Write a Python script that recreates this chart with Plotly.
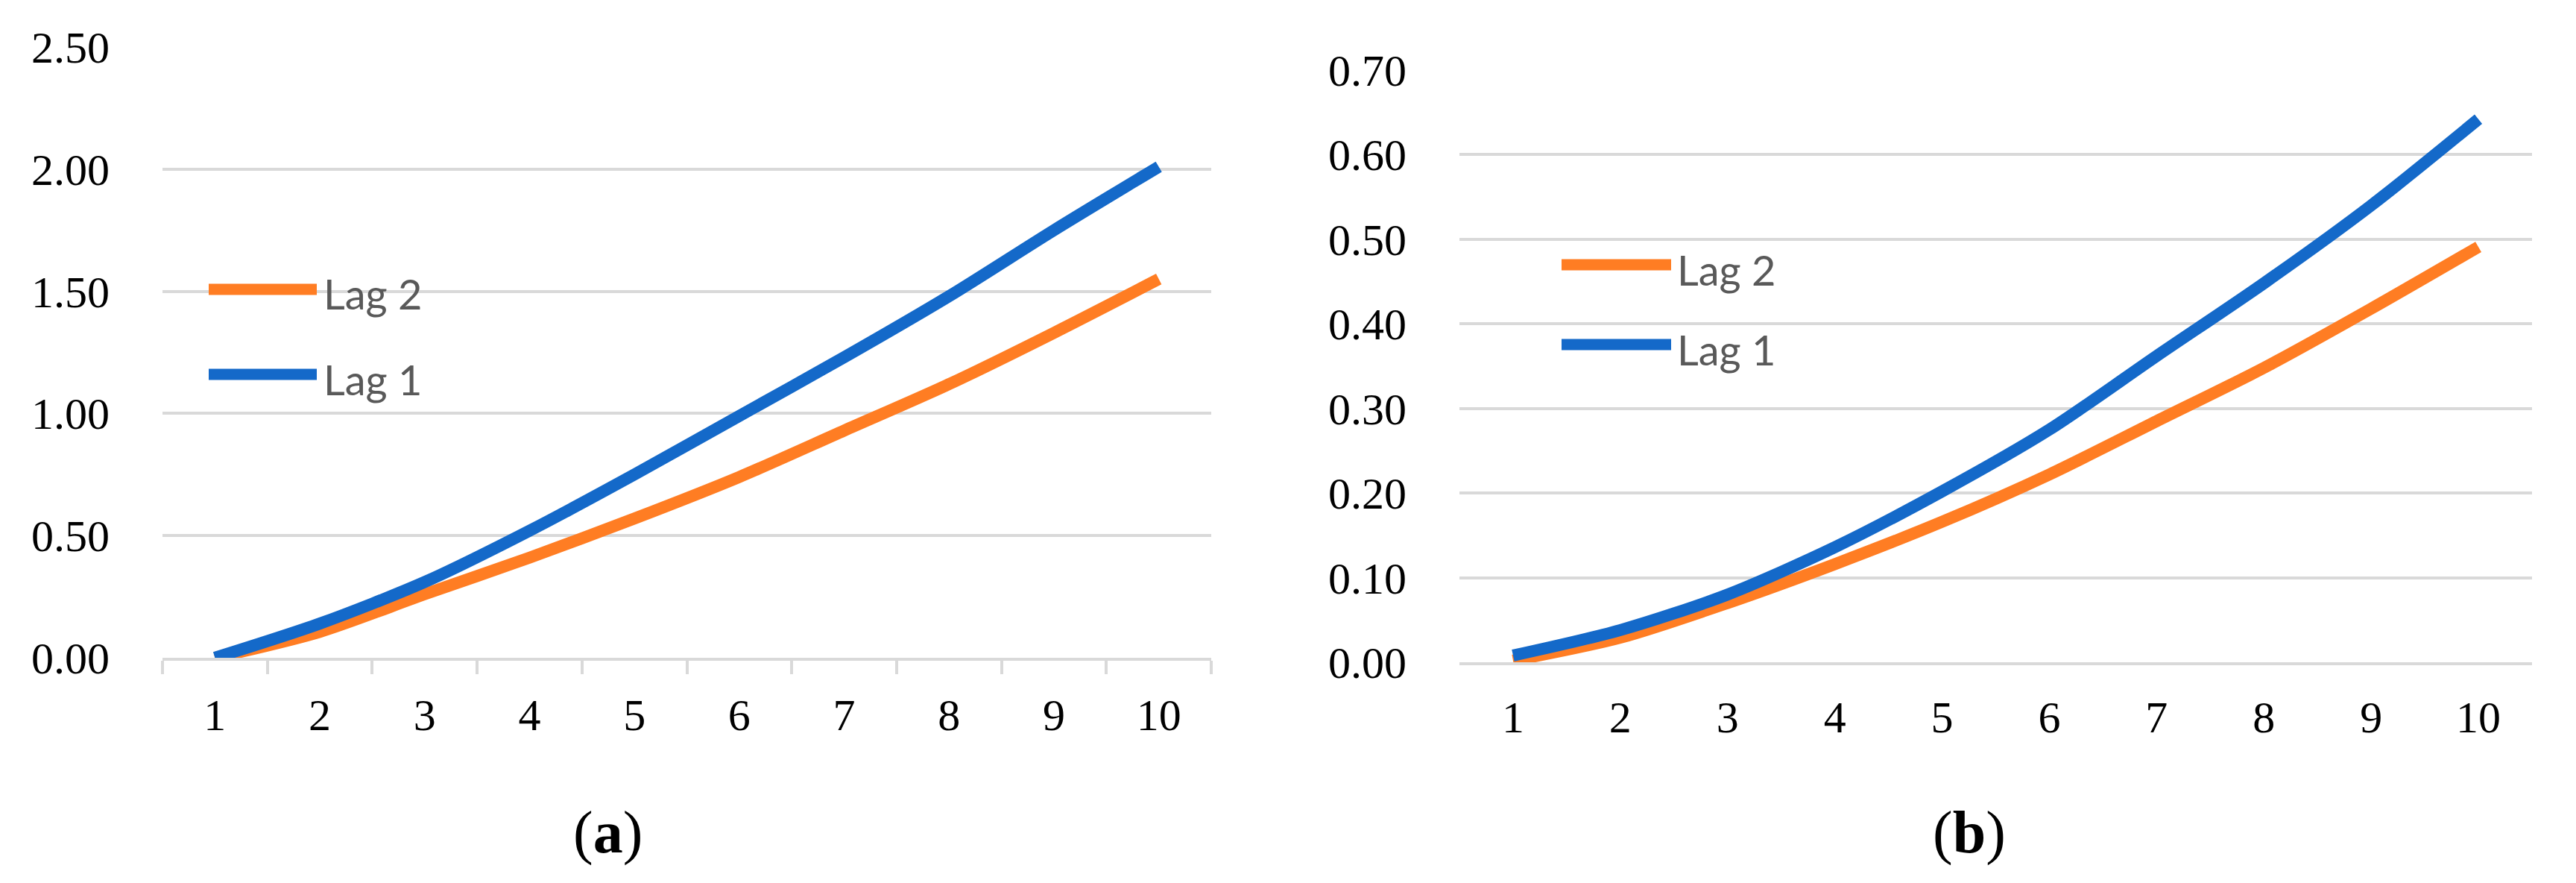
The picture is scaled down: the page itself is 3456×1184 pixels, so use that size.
import plotly.graph_objects as go

# The page body has an 8px margin; lay the figure out in page pixels.
PAGE_W, PAGE_H, OFF = 3456, 1184, 8
W, H = PAGE_W - 2 * OFF, PAGE_H - 2 * OFF

categories = ["1", "2", "3", "4", "5", "6", "7", "8", "9", "10"]

# Panel (a)
a_lag1 = [0.00, 0.14, 0.31, 0.52, 0.75, 0.99, 1.23, 1.48, 1.75, 2.01]
a_lag2 = [0.00, 0.106, 0.26, 0.41, 0.57, 0.74, 0.93, 1.12, 1.33, 1.55]
# Panel (b)
b_lag1 = [0.008, 0.038, 0.080, 0.136, 0.202, 0.275, 0.362, 0.448, 0.540, 0.642]
b_lag2 = [0.002, 0.029, 0.070, 0.116, 0.166, 0.222, 0.285, 0.348, 0.418, 0.491]

a_yticks = [0.0, 0.5, 1.0, 1.5, 2.0, 2.5]
b_yticks = [0.0, 0.1, 0.2, 0.3, 0.4, 0.5, 0.6, 0.7]

series_names = ["Lag 2", "Lag 1"]
ORANGE = "#ff7d23"
BLUE = "#1469c9"
GRID = "#d9d9d9"
SERIF = "Liberation Serif"
SANS = "Lato"


def px(x):
    return (x - OFF) / W


def py(y):
    return 1 - (y - OFF) / H


fig = go.Figure()

for name, ys, col in [(series_names[0], a_lag2, ORANGE), (series_names[1], a_lag1, BLUE)]:
    fig.add_trace(go.Scatter(x=categories, y=ys, mode="lines", name=name,
                             line=dict(color=col, width=16, shape="spline", smoothing=0.8),
                             xaxis="x", yaxis="y", showlegend=False))
for name, ys, col in [(series_names[0], b_lag2, ORANGE), (series_names[1], b_lag1, BLUE)]:
    fig.add_trace(go.Scatter(x=categories, y=ys, mode="lines", name=name,
                             line=dict(color=col, width=16, shape="spline", smoothing=0.8),
                             xaxis="x2", yaxis="y2", showlegend=False))

tickfont = dict(family=SERIF, size=60, color="#000000")

xcommon = dict(type="category", categoryorder="array", categoryarray=categories,
               showgrid=False, zeroline=False, showline=True, linecolor=GRID, linewidth=4,
               tickfont=tickfont, range=[-0.5, 9.5], automargin=False)
ycommon = dict(showgrid=True, gridcolor=GRID, gridwidth=4, zeroline=False, showline=False,
               tickfont=tickfont, tickformat=".2f", ticks="", automargin=False)

fig.update_layout(
    width=W, height=H, autosize=False,
    margin=dict(l=0, r=0, t=0, b=0),
    paper_bgcolor="white", plot_bgcolor="white",
    showlegend=False,
    xaxis=dict(domain=[px(218), px(1625)], anchor="y",
               ticks="outside", tickson="boundaries", ticklen=18, tickwidth=4, tickcolor=GRID,
               ticklabelstandoff=21, **xcommon),
    yaxis=dict(domain=[py(882), py(63)], anchor="x", range=[0, 2.5],
               tickvals=a_yticks, ticklabelstandoff=70, **ycommon),
    xaxis2=dict(domain=[px(1958), px(3397)], anchor="y2", ticks="", ticklen=0,
                ticklabelstandoff=18, **xcommon),
    yaxis2=dict(domain=[py(888), py(94)], anchor="x2", range=[0, 0.7],
                tickvals=b_yticks, ticklabelstandoff=70, **ycommon),
)

# Legends drawn inside each panel
legend_items = [
    # (x0, x1, y_orange, y_blue, text_x)
    (280, 425, 388, 502, 432),
    (2095, 2242, 355, 462, 2248),
]
for x0, x1, yo, yb, tx in legend_items:
    for yy, col, name in [(yo, ORANGE, series_names[0]), (yb, BLUE, series_names[1])]:
        fig.add_shape(type="line", xref="paper", yref="paper",
                      x0=px(x0), x1=px(x1), y0=py(yy), y1=py(yy),
                      line=dict(color=col, width=15))
        fig.add_annotation(xref="paper", yref="paper", x=px(tx), y=py(yy + 6),
                           xanchor="left", yanchor="middle", showarrow=False,
                           text=name, font=dict(family=SANS, size=56, color="#595959"))

# Panel labels
for cx, lab in [(815, "a"), (2642, "b")]:
    fig.add_annotation(xref="paper", yref="paper", x=px(cx), y=py(1116),
                       xanchor="center", yanchor="middle", showarrow=False,
                       text="(<b>" + lab + "</b>)",
                       font=dict(family=SERIF, size=80, color="#000000"))

fig.write_html("out.html")
